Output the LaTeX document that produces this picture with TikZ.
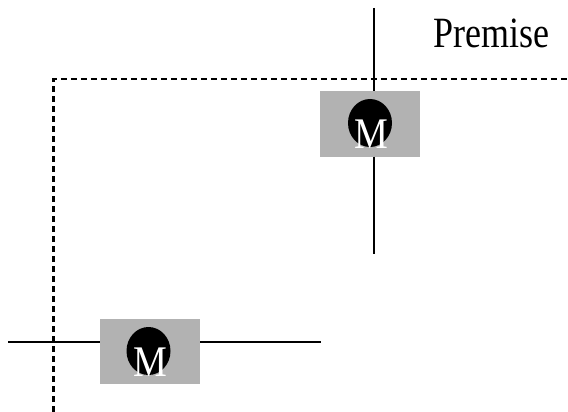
\documentclass[tikz,border=0pt]{standalone}
\usepackage{fontspec}
\setmainfont{Liberation Serif}
\usetikzlibrary{shapes.geometric}
\begin{document}
\begin{tikzpicture}[x=1pt,y=-1pt,
every node/.style={inner sep=0pt},
graybox/.style={fill=black!30, minimum width=100pt, minimum height=65pt},
blackdot/.style={fill=black, ellipse, minimum width=44pt, minimum height=48pt},
mletter/.style={text=white, font=\fontsize{38}{38}\selectfont, yscale=1.15, anchor=base},
wire/.style={line width=1.2pt},
dashwire/.style={line width=2.2pt, dash pattern=on 6pt off 4pt}]
\useasboundingbox (0,0) rectangle (568,412);
\node [font=\fontsize{36}{36}\selectfont, yscale=1.2] (premise) at (491,33) {Premise};
% dashed frame
\coordinate (cornerfr) at (53.5,79.3);
\coordinate (rightfr) at (568,79.3);
\coordinate (bottomfr) at (53.5,412);
\draw [dashwire] (bottomfr) -- (cornerfr) -- (rightfr);
% top right
\node [graybox] (boxa) at (370,124) {};
\node [blackdot] (dota) at (370,123) {};
\node [mletter] (ma) at (371.5,148) {M};
\coordinate (atop) at (374,8);
\coordinate (abot) at (374,254);
\draw [wire] (atop) -- (boxa.north -| atop);
\draw [wire] (boxa.south -| atop) -- (abot);
% bottom left
\node [graybox] (boxb) at (150,351.5) {};
\node [blackdot] (dotb) at (148.5,351) {};
\node [mletter] (mb) at (150,376) {M};
\coordinate (bleft) at (8,342);
\coordinate (bright) at (321,342);
\draw [wire] (bleft) -- (boxb.west |- bleft);
\draw [wire] (boxb.east |- bright) -- (bright);
\end{tikzpicture}
\end{document}
